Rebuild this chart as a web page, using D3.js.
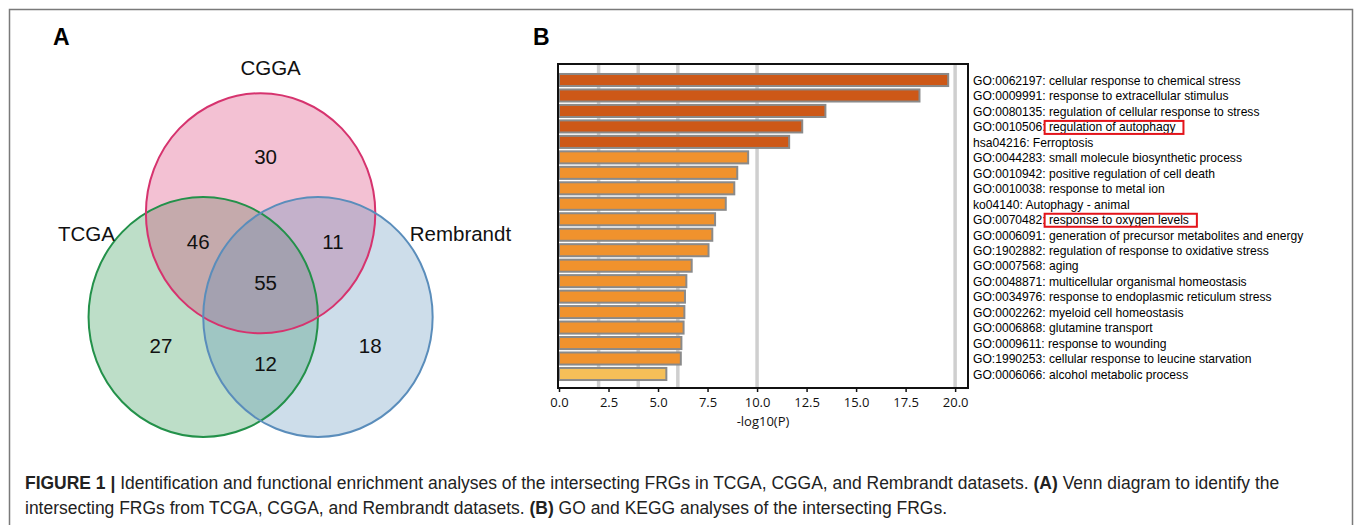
<!DOCTYPE html>
<html>
<head>
<meta charset="utf-8">
<script src="https://cdn.jsdelivr.net/npm/d3@7"></script>
<style>
  body { margin: 0; background: #fff; }
  svg { display: block; }
</style>
</head>
<body>
<div id="figure"></div>
<script>
// ---- Panel A: Venn data ----
var setNames = ["TCGA", "CGGA", "Rembrandt"];
var setColors = ["#23914a", "#d6336e", "#5a8dbb"];
var setCx = [-0.5, 0, 0.5];        // centres in venn units
var setCy = [0.288, -0.576, 0.288];
var regionMembers = [[1], [0, 1], [1, 2], [0, 1, 2], [0], [0, 2], [2]];
var regionCounts = [30, 46, 11, 55, 27, 12, 18];

// ---- Panel B: enrichment data ----
var termIds = ["GO:0062197", "GO:0009991", "GO:0080135", "GO:0010506", "hsa04216",
    "GO:0044283", "GO:0010942", "GO:0010038", "ko04140", "GO:0070482",
    "GO:0006091", "GO:1902882", "GO:0007568", "GO:0048871", "GO:0034976",
    "GO:0002262", "GO:0006868", "GO:0009611", "GO:1990253", "GO:0006066"];
var termNames = ["cellular response to chemical stress", "response to extracellular stimulus",
    "regulation of cellular response to stress", "regulation of autophagy", "Ferroptosis",
    "small molecule biosynthetic process", "positive regulation of cell death",
    "response to metal ion", "Autophagy - animal", "response to oxygen levels",
    "generation of precursor metabolites and energy", "regulation of response to oxidative stress",
    "aging", "multicellular organismal homeostasis", "response to endoplasmic reticulum stress",
    "myeloid cell homeostasis", "glutamine transport", "response to wounding",
    "cellular response to leucine starvation", "alcohol metabolic process"];
var logP = [19.65, 18.2, 13.45, 12.28, 11.62, 9.55, 9.0, 8.85, 8.42, 7.88,
    7.74, 7.55, 6.7, 6.43, 6.36, 6.33, 6.29, 6.18, 6.15, 5.42];
var highlighted = ["GO:0010506", "GO:0070482"];
var gridValues = [2, 4, 6, 10, 20];
var xTicks = [0, 2.5, 5, 7.5, 10, 12.5, 15, 17.5, 20];

var W = 1355, H = 525;
var svg = d3.select("#figure").append("svg")
    .attr("width", W)
    .attr("height", H);

// outer figure border (open at bottom)
svg.append("path")
    .attr("d", "M9.5," + (H + 5) + "V9.5H1352.5V" + (H + 5))
    .attr("fill", "none")
    .attr("stroke", "#7a7a7a")
    .attr("stroke-width", 1.5);

// panel letters
svg.selectAll(".panel-letter")
    .data([{t: "A", x: 53}, {t: "B", x: 533}])
    .enter().append("text")
    .attr("x", function(d) { return d.x; })
    .attr("y", 45)
    .attr("font-family", "Liberation Sans, Arial, sans-serif")
    .attr("font-weight", "bold")
    .attr("font-size", 23)
    .text(function(d) { return d.t; });

// ================= Venn =================
var vx = d3.scaleLinear().domain([-1, 1]).range([260.6 - 114.7, 260.6 + 114.7]);
var vy = d3.scaleLinear().domain([-1, 1]).range([282.4 - 120, 282.4 + 120]);
var rx = vx(1) - vx(0), ry = vy(1) - vy(0);

var venn = svg.append("g");
var sets = setNames.map(function(n, i) {
    return {name: n, color: setColors[i], cx: setCx[i], cy: setCy[i], i: i};
});

venn.selectAll(".set-fill")
    .data(sets)
    .enter().append("ellipse")
    .attr("cx", function(d) { return vx(d.cx); })
    .attr("cy", function(d) { return vy(d.cy); })
    .attr("rx", rx)
    .attr("ry", ry)
    .attr("fill", function(d) { return d.color; })
    .attr("fill-opacity", 0.3);

venn.selectAll(".set-line")
    .data(sets)
    .enter().append("ellipse")
    .attr("cx", function(d) { return vx(d.cx); })
    .attr("cy", function(d) { return vy(d.cy); })
    .attr("rx", rx)
    .attr("ry", ry)
    .attr("fill", "none")
    .attr("stroke", function(d) { return d.color; })
    .attr("stroke-width", 2);

// set names
var vennFont = "Liberation Sans, Arial, sans-serif";
venn.selectAll(".set-name")
    .data(sets)
    .enter().append("text")
    .attr("font-family", vennFont)
    .attr("font-size", 20.5)
    .attr("fill", "#111")
    .attr("text-anchor", function(d) { return d.i === 0 ? "end" : (d.i === 2 ? "start" : "middle"); })
    .attr("x", function(d) {
        if (d.i === 1) return vx(d.cx) + 10;
        return vx(d.cx + (d.i === 0 ? -0.77 : 0.8));
    })
    .attr("y", function(d) {
        if (d.i === 1) return vy(d.cy - 1) - 18;
        return vy(d.cy - 0.63);
    })
    .text(function(d) { return d.name; });

// region counts placed from circle geometry
function regionPos(members) {
    var inside = members.map(function(m) { return sets[m]; });
    var outside = sets.filter(function(s) { return members.indexOf(s.i) < 0; });
    var ix = d3.mean(inside, function(s) { return s.cx; });
    var iy = d3.mean(inside, function(s) { return s.cy; });
    if (!outside.length) return [ix, iy];
    var ox = d3.mean(outside, function(s) { return s.cx; });
    var oy = d3.mean(outside, function(s) { return s.cy; });
    var k = members.length === 1 ? 0.55 : 0.45;
    return [ix + k * (ix - ox), iy + k * (iy - oy)];
}

venn.selectAll(".count")
    .data(regionCounts)
    .enter().append("text")
    .attr("font-family", vennFont)
    .attr("font-size", 20.5)
    .attr("fill", "#111")
    .attr("text-anchor", "middle")
    .attr("x", function(d, i) { return vx(regionPos(regionMembers[i])[0]) + 5; })
    .attr("y", function(d, i) { return vy(regionPos(regionMembers[i])[1]); })
    .attr("dy", "0.36em")
    .text(function(d) { return d; });

// ================= Bar chart =================
var plot = {left: 558, top: 64, right: 968, bottom: 388};
var x = d3.scaleLinear().domain([0, 20.65]).range([559, plot.right]);
var y = d3.scaleBand().domain(d3.range(termIds.length))
    .range([plot.top + 1, plot.bottom + 1])
    .paddingInner(0.22)
    .paddingOuter(0.58);
var barColor = d3.scaleThreshold().domain([6, 10]).range(["#f5bf58", "#f0922d", "#cd5817"]);

var chart = svg.append("g");

chart.selectAll(".grid")
    .data(gridValues)
    .enter().append("line")
    .attr("x1", function(d) { return x(d); })
    .attr("x2", function(d) { return x(d); })
    .attr("y1", plot.top)
    .attr("y2", plot.bottom)
    .attr("stroke", "#cfcfcf")
    .attr("stroke-width", 3.5);

chart.selectAll(".bar")
    .data(logP)
    .enter().append("rect")
    .attr("x", x(0))
    .attr("y", function(d, i) { return y(i); })
    .attr("width", function(d) { return x(d) - x(0); })
    .attr("height", y.bandwidth())
    .attr("fill", function(d) { return barColor(d); })
    .attr("stroke", "#8a8a8a")
    .attr("stroke-width", 2);

chart.append("rect")
    .attr("x", plot.left)
    .attr("y", plot.top)
    .attr("width", plot.right - plot.left)
    .attr("height", plot.bottom - plot.top)
    .attr("fill", "none")
    .attr("stroke", "#111")
    .attr("stroke-width", 2);

var labelFont = "Open Sans, Noto Sans, sans-serif";
var axis = chart.append("g")
    .attr("transform", "translate(0," + plot.bottom + ")")
    .call(d3.axisBottom(x).tickValues(xTicks).tickFormat(d3.format(".1f")).tickSize(4).tickPadding(6));
axis.select(".domain").remove();
axis.selectAll("line").attr("stroke", "#111").attr("stroke-width", 1.5);
axis.selectAll("text")
    .attr("font-family", labelFont)
    .attr("font-size", 13)
    .attr("fill", "#111");

chart.append("text")
    .attr("x", (plot.left + plot.right) / 2)
    .attr("y", 426)
    .attr("text-anchor", "middle")
    .attr("font-family", labelFont)
    .attr("font-size", 13)
    .attr("fill", "#111")
    .text("-log10(P)");

// term labels, squeezed to match the narrow original face
var labelX = 973;
var labelGroup = chart.append("g");
var labels = labelGroup.selectAll(".term")
    .data(termIds)
    .enter().append("text")
    .attr("x", 0)
    .attr("y", function(d, i) { return y(i) + y.bandwidth() / 2 + 4.8; })
    .attr("font-family", "Liberation Sans, Arial, sans-serif")
    .attr("font-size", 13)
    .attr("fill", "#000")
    .text(function(d, i) { return d + ": " + termNames[i]; });

var natural = labels.node().getComputedTextLength();
var sx = 268 / natural;
labelGroup.attr("transform", "translate(" + labelX + ",0) scale(" + sx + ",1)");

// red boxes round highlighted descriptions
labels.each(function(d, i) {
    if (highlighted.indexOf(d) < 0) return;
    var x0 = labelX + sx * this.getStartPositionOfChar(d.length + 1).x;
    var x1 = labelX + sx * this.getComputedTextLength();
    var cy = y(i) + y.bandwidth() / 2;
    chart.append("rect")
        .attr("x", x0 - 1)
        .attr("y", cy - 5.5)
        .attr("width", x1 - x0 + 9)
        .attr("height", 13)
        .attr("fill", "none")
        .attr("stroke", "#e3141b")
        .attr("stroke-width", 2);
});

// ================= Caption =================
var captionLines = [
    [["FIGURE 1 | ", true], ["Identification and functional enrichment analyses of the intersecting FRGs in TCGA, CGGA, and Rembrandt datasets. ", false], ["(A)", true], [" Venn diagram to identify the", false]],
    [["intersecting FRGs from TCGA, CGGA, and Rembrandt datasets. ", false], ["(B)", true], [" GO and KEGG analyses of the intersecting FRGs.", false]]
];
var captionY = [489, 514];
var caption = svg.selectAll(".caption")
    .data(captionLines)
    .enter().append("text")
    .attr("x", 25)
    .attr("y", function(d, i) { return captionY[i]; })
    .attr("font-family", "Liberation Sans, Arial, sans-serif")
    .attr("font-size", 16)
    .attr("fill", "#222");
caption.selectAll("tspan")
    .data(function(d) { return d; })
    .enter().append("tspan")
    .attr("font-weight", function(d) { return d[1] ? "bold" : "normal"; })
    .text(function(d) { return d[0]; });
var capLen = caption.node().getComputedTextLength();
caption.attr("font-size", 16 * 1255 / capLen);
</script>
</body>
</html>
